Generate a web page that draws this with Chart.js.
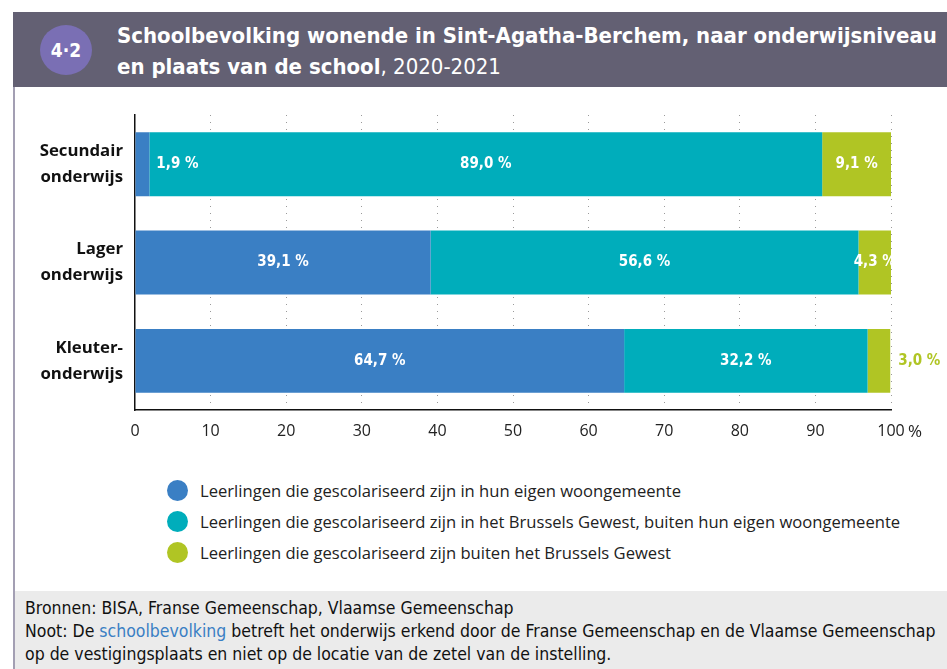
<!DOCTYPE html>
<html>
<head>
<meta charset="utf-8">
<script src="https://cdn.jsdelivr.net/npm/chart.js@4"></script>
<style>
  body { margin: 0; background: #fff; width: 947px; height: 669px; overflow: hidden; position: relative; font-family: "Open Sans", sans-serif; }
  #header { position: absolute; left: 13px; top: 12px; width: 934px; height: 75px; background: #636073; }
  #badge { position: absolute; left: 27px; top: 13px; width: 52px; height: 50px; border-radius: 50%; background: #7a6fb4; color: #fff;
           font: bold 19px "DejaVu Sans Condensed", sans-serif; text-align: center; line-height: 50px; }
  #title { position: absolute; left: 104px; top: 8px; color: #fff; font: bold 22px "DejaVu Sans Condensed", sans-serif; line-height: 31px; white-space: nowrap; }
  #title span { font-weight: normal; }
  #leftline { position: absolute; left: 13px; top: 87px; width: 2px; height: 582px; background: #a39fb3; }
  #chartbox { position: absolute; left: 15px; top: 100px; width: 932px; height: 350px; }
  #legend { position: absolute; left: 167px; top: 475px; font: 16.6px "Open Sans", sans-serif; color: #222; }
  .item { height: 31px; display: flex; align-items: center; }
  .dot { width: 21px; height: 21px; border-radius: 50%; margin-right: 12px; }
  #footer { position: absolute; left: 15px; top: 591px; width: 932px; height: 78px; background: #ebebeb; }
  #footer div { position: absolute; left: 10px; top: 6px; font: 17.5px "DejaVu Sans Condensed", sans-serif; color: #111; line-height: 23px; white-space: nowrap; }
  #footer a { color: #3a7fc4; text-decoration: none; }
</style>
</head>
<body>
<div id="header">
  <div id="badge">4·2</div>
  <div id="title">Schoolbevolking wonende in Sint-Agatha-Berchem, naar onderwijsniveau<br>en plaats van de school<span>, 2020-2021</span></div>
</div>
<div id="leftline"></div>
<div id="chartbox"><canvas id="chart"></canvas></div>
<div id="legend"></div>
<div id="footer"><div>Bronnen: BISA, Franse Gemeenschap, Vlaamse Gemeenschap<br>Noot: De <a>schoolbevolking</a> betreft het onderwijs erkend door de Franse Gemeenschap en de Vlaamse Gemeenschap<br>op de vestigingsplaats en niet op de locatie van de zetel van de instelling.</div></div>

<script>
// Data
const categories = [['Secundair', 'onderwijs'], ['Lager', 'onderwijs'], ['Kleuter-', 'onderwijs']];
const seriesNames = [
  'Leerlingen die gescolariseerd zijn in hun eigen woongemeente',
  'Leerlingen die gescolariseerd zijn in het Brussels Gewest, buiten hun eigen woongemeente',
  'Leerlingen die gescolariseerd zijn buiten het Brussels Gewest'
];
const eigenGemeente = [1.9, 39.1, 64.7];
const brusselsGewest = [89.0, 56.6, 32.2];
const buitenBrussel = [9.1, 4.3, 3.0];
const colors = ['#3a7fc4', '#00adbb', '#b0c524'];
const xTicks = [0, 10, 20, 30, 40, 50, 60, 70, 80, 90, 100];
const unitLabel = '%';

// Legend (HTML)
const legend = document.getElementById('legend');
seriesNames.forEach((name, i) => {
  legend.insertAdjacentHTML('beforeend', `<div class="item"><div class="dot" style="background:${colors[i]}"></div>${name}</div>`);
});

// Value labels on the bars
const barLabels = {
  id: 'barLabels',
  afterDatasetsDraw(chart) {
    const ctx = chart.ctx;
    ctx.save();
    ctx.font = 'bold 15px "DejaVu Sans Condensed", sans-serif';
    ctx.textBaseline = 'middle';
    const last = chart.data.datasets.length - 1;
    chart.data.datasets.forEach((ds, di) => {
      chart.getDatasetMeta(di).data.forEach((bar, i) => {
        const text = ds.data[i].toFixed(1).replace('.', ',') + ' %';
        const w = bar.x - bar.base;
        if (w < 25 && di === last) {
          ctx.fillStyle = colors[di];
          ctx.textAlign = 'left';
          ctx.fillText(text, bar.x + 8, bar.y);
        } else if (w < 25) {
          ctx.fillStyle = '#fff';
          ctx.textAlign = 'left';
          ctx.fillText(text, bar.x + 7, bar.y);
        } else {
          ctx.fillStyle = '#fff';
          ctx.textAlign = 'center';
          ctx.fillText(text, (bar.x + bar.base) / 2, bar.y);
        }
      });
    });
    // unit after the last tick
    const x = chart.scales.x;
    ctx.fillStyle = '#222';
    ctx.font = '17px "Open Sans", sans-serif';
    ctx.textAlign = 'left';
    ctx.fillText(unitLabel, x.getPixelForValue(100) + 17, x.top + 22);
    ctx.restore();
  }
};

new Chart(document.getElementById('chart'), {
  type: 'bar',
  data: {
    labels: categories,
    datasets: [eigenGemeente, brusselsGewest, buitenBrussel].map((d, i) => ({
      label: seriesNames[i],
      data: d,
      backgroundColor: colors[i],
      borderWidth: 0,
      barPercentage: 1,
      categoryPercentage: 0.65
    }))
  },
  options: {
    indexAxis: 'y',
    responsive: true,
    maintainAspectRatio: false,
    animation: false,
    layout: { padding: { top: 15, right: 56, bottom: 0, left: 0 } },
    plugins: { legend: { display: false }, tooltip: { enabled: false } },
    scales: {
      x: {
        stacked: true,
        min: 0,
        max: 100,
        afterBuildTicks: (s) => { s.ticks = xTicks.map(v => ({ value: v })); },
        afterFit: (s) => { s.height = 40; },
        ticks: { color: '#222', font: { family: 'Open Sans', size: 16 }, padding: 12 },
        grid: { color: (c) => c.tick && c.tick.value === 0 ? 'rgba(0,0,0,0)' : '#9a9a9a', lineWidth: 1, drawTicks: false },
        border: { display: true, color: '#111', width: 1.5, dash: [1, 6] }
      },
      y: {
        stacked: true,
        afterFit: (s) => { s.width = 120; s.paddingTop = 0; s.paddingBottom = 0; },
        ticks: { color: '#111', font: { family: 'Open Sans', size: 16.8, weight: 'bold', lineHeight: 1.55 }, padding: 12 },
        grid: { display: false, drawTicks: false },
        border: { display: true, color: '#111', width: 1.5 }
      }
    }
  },
  plugins: [barLabels]
});
</script>
</body>
</html>
